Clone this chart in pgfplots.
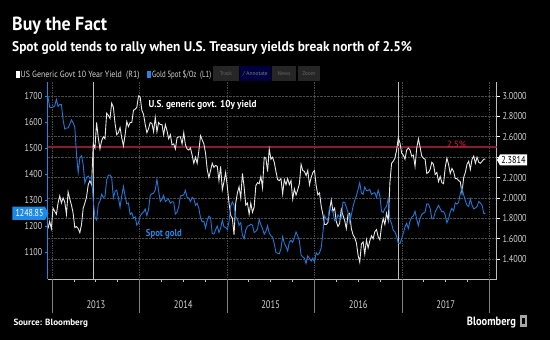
\documentclass[border=0pt]{standalone}
\usepackage{pgfplots}
\pgfplotsset{compat=1.18}
\usepgfplotslibrary{dateplot}
\usepackage{graphicx}
\usepackage{fontspec}
\setmainfont{PT Sans}
\definecolor{goldblue}{HTML}{1F78D8}
\definecolor{boxblue}{HTML}{1E88E5}
\definecolor{yieldwhite}{HTML}{E8E8E8}
\definecolor{gridgray}{HTML}{4A4A4A}
\definecolor{redline}{HTML}{8C1A2E}
\definecolor{redtext}{HTML}{E8183F}
\definecolor{ticktext}{HTML}{D4D4D4}
\definecolor{axisgray}{HTML}{BDBDBD}
\newcommand{\cw}[2]{\resizebox{#1}{\height}{#2}}

\pgfplotstableread{
d v
2012-12-14 1696
2012-12-21 1657
2012-12-28 1656
2013-01-04 1657
2013-01-11 1662
2013-01-18 1687
2013-01-25 1660
2013-02-01 1667
2013-02-08 1667
2013-02-15 1609
2013-02-22 1573
2013-03-01 1577
2013-03-08 1577
2013-03-15 1592
2013-03-22 1608
2013-03-29 1597
2013-04-05 1580
2013-04-12 1477
2013-04-19 1405
2013-04-26 1462
2013-05-03 1470
2013-05-10 1436
2013-05-17 1365
2013-05-24 1387
2013-05-31 1392
2013-06-07 1383
2013-06-14 1388
2013-06-21 1297
2013-06-28 1234
2013-07-05 1223
2013-07-12 1283
2013-07-19 1295
2013-07-26 1322
2013-08-02 1310
2013-08-09 1313
2013-08-16 1377
2013-08-23 1396
2013-08-30 1395
2013-09-06 1387
2013-09-13 1308
2013-09-20 1333
2013-09-27 1338
2013-10-04 1309
2013-10-11 1272
2013-10-18 1316
2013-10-25 1352
2013-11-01 1315
2013-11-08 1285
2013-11-15 1288
2013-11-22 1244
2013-11-29 1251
2013-12-06 1230
2013-12-13 1235
2013-12-20 1203
2013-12-27 1212
2014-01-03 1238
2014-01-10 1248
2014-01-17 1254
2014-01-24 1265
2014-01-31 1240
2014-02-07 1263
2014-02-14 1318
2014-02-21 1324
2014-02-28 1326
2014-03-07 1339
2014-03-14 1379
2014-03-21 1335
2014-03-28 1294
2014-04-04 1303
2014-04-11 1318
2014-04-18 1294
2014-04-25 1300
2014-05-02 1302
2014-05-09 1288
2014-05-16 1293
2014-05-23 1292
2014-05-30 1246
2014-06-06 1253
2014-06-13 1274
2014-06-20 1316
2014-06-27 1317
2014-07-04 1320
2014-07-11 1337
2014-07-18 1310
2014-07-25 1307
2014-08-01 1294
2014-08-08 1310
2014-08-15 1305
2014-08-22 1280
2014-08-29 1287
2014-09-05 1268
2014-09-12 1231
2014-09-19 1216
2014-09-26 1218
2014-10-03 1192
2014-10-10 1222
2014-10-17 1238
2014-10-24 1231
2014-10-31 1171
2014-11-07 1169
2014-11-14 1185
2014-11-21 1200
2014-11-28 1175
2014-12-05 1191
2014-12-12 1222
2014-12-19 1196
2014-12-26 1195
2015-01-02 1186
2015-01-09 1216
2015-01-16 1277
2015-01-23 1293
2015-01-30 1279
2015-02-06 1234
2015-02-13 1227
2015-02-20 1203
2015-02-27 1213
2015-03-06 1164
2015-03-13 1152
2015-03-20 1184
2015-03-27 1199
2015-04-03 1201
2015-04-10 1207
2015-04-17 1203
2015-04-24 1175
2015-05-01 1179
2015-05-08 1189
2015-05-15 1225
2015-05-22 1205
2015-05-29 1190
2015-06-05 1168
2015-06-12 1179
2015-06-19 1201
2015-06-26 1173
2015-07-03 1163
2015-07-10 1157
2015-07-17 1132
2015-07-24 1098
2015-07-31 1095
2015-08-07 1093
2015-08-14 1113
2015-08-21 1159
2015-08-28 1133
2015-09-04 1121
2015-09-11 1104
2015-09-18 1138
2015-09-25 1145
2015-10-02 1137
2015-10-09 1156
2015-10-16 1177
2015-10-23 1162
2015-10-30 1142
2015-11-06 1088
2015-11-13 1081
2015-11-20 1076
2015-11-27 1056
2015-12-04 1085
2015-12-11 1075
2015-12-18 1065
2015-12-25 1076
2016-01-01 1061
2016-01-08 1097
2016-01-15 1089
2016-01-22 1097
2016-01-29 1116
2016-02-05 1173
2016-02-12 1239
2016-02-19 1227
2016-02-26 1222
2016-03-04 1271
2016-03-11 1259
2016-03-18 1255
2016-03-25 1220
2016-04-01 1221
2016-04-08 1243
2016-04-15 1235
2016-04-22 1232
2016-04-29 1292
2016-05-06 1290
2016-05-13 1273
2016-05-20 1252
2016-05-27 1214
2016-06-03 1243
2016-06-10 1275
2016-06-17 1298
2016-06-24 1316
2016-07-01 1340
2016-07-08 1366
2016-07-15 1327
2016-07-22 1322
2016-07-29 1350
2016-08-05 1336
2016-08-12 1336
2016-08-19 1341
2016-08-26 1321
2016-09-02 1326
2016-09-09 1328
2016-09-16 1310
2016-09-23 1338
2016-09-30 1316
2016-10-07 1257
2016-10-14 1252
2016-10-21 1267
2016-10-28 1276
2016-11-04 1304
2016-11-11 1225
2016-11-18 1209
2016-11-25 1183
2016-12-02 1177
2016-12-09 1160
2016-12-16 1134
2016-12-23 1132
2016-12-30 1151
2017-01-06 1173
2017-01-13 1197
2017-01-20 1210
2017-01-27 1190
2017-02-03 1220
2017-02-10 1234
2017-02-17 1239
2017-02-24 1257
2017-03-03 1226
2017-03-10 1201
2017-03-17 1229
2017-03-24 1244
2017-03-31 1249
2017-04-07 1254
2017-04-14 1285
2017-04-21 1284
2017-04-28 1268
2017-05-05 1228
2017-05-12 1228
2017-05-19 1254
2017-05-26 1267
2017-06-02 1279
2017-06-09 1266
2017-06-16 1254
2017-06-23 1256
2017-06-30 1242
2017-07-07 1212
2017-07-14 1228
2017-07-21 1254
2017-07-28 1268
2017-08-04 1258
2017-08-11 1289
2017-08-18 1284
2017-08-25 1291
2017-09-01 1325
2017-09-08 1346
2017-09-15 1320
2017-09-22 1297
2017-09-29 1280
2017-10-06 1275
2017-10-13 1304
2017-10-20 1280
2017-10-27 1266
2017-11-03 1269
2017-11-10 1275
2017-11-17 1294
2017-11-24 1288
2017-12-01 1280
2017-12-08 1248
2017-12-15 1248.85
}\goldtable

\pgfplotstableread{
d v
2012-12-14 1.70
2012-12-21 1.77
2012-12-28 1.70
2013-01-04 1.90
2013-01-11 1.87
2013-01-18 1.84
2013-01-25 1.95
2013-02-01 2.02
2013-02-08 1.95
2013-02-15 2.00
2013-02-22 1.96
2013-03-01 1.84
2013-03-08 2.06
2013-03-15 1.99
2013-03-22 1.93
2013-03-29 1.85
2013-04-05 1.71
2013-04-12 1.72
2013-04-19 1.70
2013-04-26 1.66
2013-05-03 1.74
2013-05-10 1.90
2013-05-17 1.95
2013-05-24 2.01
2013-05-31 2.13
2013-06-07 2.17
2013-06-14 2.13
2013-06-21 2.53
2013-06-28 2.49
2013-07-05 2.74
2013-07-12 2.59
2013-07-19 2.48
2013-07-26 2.56
2013-08-02 2.60
2013-08-09 2.58
2013-08-16 2.83
2013-08-23 2.81
2013-08-30 2.78
2013-09-06 2.93
2013-09-13 2.89
2013-09-20 2.73
2013-09-27 2.62
2013-10-04 2.64
2013-10-11 2.69
2013-10-18 2.59
2013-10-25 2.51
2013-11-01 2.62
2013-11-08 2.75
2013-11-15 2.70
2013-11-22 2.74
2013-11-29 2.74
2013-12-06 2.86
2013-12-13 2.87
2013-12-20 2.89
2013-12-27 3.00
2014-01-03 2.99
2014-01-10 2.86
2014-01-17 2.82
2014-01-24 2.72
2014-01-31 2.64
2014-02-07 2.68
2014-02-14 2.74
2014-02-21 2.73
2014-02-28 2.65
2014-03-07 2.79
2014-03-14 2.65
2014-03-21 2.74
2014-03-28 2.72
2014-04-04 2.72
2014-04-11 2.62
2014-04-18 2.72
2014-04-25 2.66
2014-05-02 2.58
2014-05-09 2.62
2014-05-16 2.52
2014-05-23 2.53
2014-05-30 2.48
2014-06-06 2.59
2014-06-13 2.60
2014-06-20 2.60
2014-06-27 2.53
2014-07-04 2.64
2014-07-11 2.52
2014-07-18 2.48
2014-07-25 2.47
2014-08-01 2.49
2014-08-08 2.42
2014-08-15 2.34
2014-08-22 2.40
2014-08-29 2.34
2014-09-05 2.46
2014-09-12 2.61
2014-09-19 2.57
2014-09-26 2.53
2014-10-03 2.44
2014-10-10 2.28
2014-10-17 2.20
2014-10-24 2.27
2014-10-31 2.34
2014-11-07 2.30
2014-11-14 2.32
2014-11-21 2.31
2014-11-28 2.17
2014-12-05 2.31
2014-12-12 2.08
2014-12-19 2.16
2014-12-26 2.25
2015-01-02 2.11
2015-01-09 1.95
2015-01-16 1.83
2015-01-23 1.80
2015-01-30 1.64
2015-02-06 1.95
2015-02-13 2.05
2015-02-20 2.11
2015-02-27 2.00
2015-03-06 2.24
2015-03-13 2.11
2015-03-20 1.93
2015-03-27 1.95
2015-04-03 1.84
2015-04-10 1.95
2015-04-17 1.86
2015-04-24 1.91
2015-05-01 2.12
2015-05-08 2.15
2015-05-15 2.14
2015-05-22 2.21
2015-05-29 2.10
2015-06-05 2.40
2015-06-12 2.39
2015-06-19 2.26
2015-06-26 2.48
2015-07-03 2.38
2015-07-10 2.40
2015-07-17 2.35
2015-07-24 2.26
2015-07-31 2.18
2015-08-07 2.17
2015-08-14 2.19
2015-08-21 2.04
2015-08-28 2.18
2015-09-04 2.13
2015-09-11 2.19
2015-09-18 2.13
2015-09-25 2.17
2015-10-02 1.99
2015-10-09 2.09
2015-10-16 2.03
2015-10-23 2.08
2015-10-30 2.14
2015-11-06 2.33
2015-11-13 2.27
2015-11-20 2.26
2015-11-27 2.22
2015-12-04 2.27
2015-12-11 2.13
2015-12-18 2.20
2015-12-25 2.25
2016-01-01 2.27
2016-01-08 2.12
2016-01-15 2.03
2016-01-22 2.05
2016-01-29 1.92
2016-02-05 1.84
2016-02-12 1.74
2016-02-19 1.74
2016-02-26 1.76
2016-03-04 1.88
2016-03-11 1.98
2016-03-18 1.87
2016-03-25 1.90
2016-04-01 1.77
2016-04-08 1.72
2016-04-15 1.75
2016-04-22 1.89
2016-04-29 1.83
2016-05-06 1.78
2016-05-13 1.70
2016-05-20 1.84
2016-05-27 1.85
2016-06-03 1.70
2016-06-10 1.64
2016-06-17 1.61
2016-06-24 1.56
2016-07-01 1.44
2016-07-08 1.37
2016-07-15 1.55
2016-07-22 1.57
2016-07-29 1.45
2016-08-05 1.59
2016-08-12 1.51
2016-08-19 1.58
2016-08-26 1.63
2016-09-02 1.60
2016-09-09 1.67
2016-09-16 1.69
2016-09-23 1.62
2016-09-30 1.59
2016-10-07 1.72
2016-10-14 1.80
2016-10-21 1.74
2016-10-28 1.85
2016-11-04 1.78
2016-11-11 2.15
2016-11-18 2.34
2016-11-25 2.36
2016-12-02 2.39
2016-12-09 2.47
2016-12-16 2.59
2016-12-23 2.54
2016-12-30 2.44
2017-01-06 2.42
2017-01-13 2.38
2017-01-20 2.47
2017-01-27 2.49
2017-02-03 2.47
2017-02-10 2.41
2017-02-17 2.42
2017-02-24 2.31
2017-03-03 2.49
2017-03-10 2.58
2017-03-17 2.50
2017-03-24 2.41
2017-03-31 2.39
2017-04-07 2.38
2017-04-14 2.24
2017-04-21 2.25
2017-04-28 2.28
2017-05-05 2.35
2017-05-12 2.33
2017-05-19 2.23
2017-05-26 2.25
2017-06-02 2.16
2017-06-09 2.21
2017-06-16 2.15
2017-06-23 2.14
2017-06-30 2.30
2017-07-07 2.39
2017-07-14 2.33
2017-07-21 2.24
2017-07-28 2.29
2017-08-04 2.26
2017-08-11 2.19
2017-08-18 2.19
2017-08-25 2.17
2017-09-01 2.16
2017-09-08 2.05
2017-09-15 2.20
2017-09-22 2.25
2017-09-29 2.33
2017-10-06 2.36
2017-10-13 2.28
2017-10-20 2.38
2017-10-27 2.41
2017-11-03 2.34
2017-11-10 2.40
2017-11-17 2.35
2017-11-24 2.34
2017-12-01 2.36
2017-12-08 2.38
2017-12-15 2.3814
}\yieldtable

\begin{document}
\begin{tikzpicture}[x=1pt,y=1pt]
\useasboundingbox (0,0) rectangle (550,340);
\fill[black] (0,0) rectangle (550,340);

% ---------- right axis: 10y yield ----------
\begin{axis}[
  at={(48pt,60.5pt)}, anchor=south west,
  scale only axis, width=448.7pt, height=197.5pt,
  date coordinates in=x,
  xmin=2012-12-14, xmax=2018-01-31,
  ymin=1.201, ymax=3.137,
  axis x line=none,
  axis y line*=right,
  y axis line style={draw=axisgray, line width=0.7pt, -},
  ytick={1.4,1.6,1.8,2.0,2.2,2.4,2.6,2.8,3.0},
  yticklabels={1.4000,1.6000,1.8000,2.0000,2.2000,{},2.6000,2.8000,3.0000},
  tick align=outside, major tick length=3pt,
  y tick style={draw=white, line width=0.6pt},
  ymajorgrids, major grid style={densely dotted, gridgray, line width=0.7pt},
  yticklabel style={font=\fontsize{10}{10}\selectfont, text=ticktext, xscale=0.82},
]
\foreach \yr in {2013,2014,2015,2016,2017,2018}{
  \edef\tmp{\noexpand\draw[gridgray, densely dotted, line width=0.7pt] (axis cs:\yr-01-01,1.201) -- (axis cs:\yr-01-01,3.137);}\tmp
}
\draw[axisgray, line width=1.1pt] (axis cs:2013-06-23,1.201) -- (axis cs:2013-06-23,3.137);
\draw[axisgray, line width=1.1pt] (axis cs:2016-12-16,1.201) -- (axis cs:2016-12-16,3.137);
\addplot[redline, line width=1.6pt, forget plot] coordinates {(2012-12-14,2.5) (2018-01-31,2.5)};
\addplot[yieldwhite, line width=0.9pt] table[x=d,y=v]{\yieldtable};
\end{axis}

% ---------- left axis: gold ----------
\begin{axis}[
  at={(48pt,60.5pt)}, anchor=south west,
  scale only axis, width=448.7pt, height=197.5pt,
  clip=false,
  date coordinates in=x,
  xmin=2012-12-14, xmax=2018-01-31,
  ymin=994.2, ymax=1753.8,
  axis x line*=bottom, axis y line*=left,
  x axis line style={draw=axisgray, line width=0.8pt, -},
  y axis line style={draw=boxblue, line width=1pt, -},
  xtick=\empty,
  ytick={1100,1200,1300,1400,1500,1600,1700},
  tick align=outside, major tick length=3pt,
  y tick style={draw=boxblue, line width=0.8pt},
  yticklabel style={/pgf/number format/assume math mode=true, /pgf/number format/1000 sep={},
     font=\fontsize{10}{10}\selectfont, text=ticktext, xscale=0.8},
]
\addplot[goldblue, line width=0.9pt] table[x=d,y=v]{\goldtable};
\foreach \yr in {2013,2014,2015,2016,2017,2018}{
  \edef\tmp{\noexpand\draw[gray, line width=0.7pt] (axis cs:\yr-01-01,994.2) -- (axis cs:\yr-01-01,867);}\tmp
}
\foreach \yr in {2013,2014,2015,2016,2017}{
  \edef\tmp{\noexpand\draw[axisgray, line width=0.6pt] (axis cs:\yr-04-01,994.2) -- (axis cs:\yr-04-01,984.6);
            \noexpand\draw[axisgray, line width=0.6pt] (axis cs:\yr-07-01,994.2) -- (axis cs:\yr-07-01,984.6);
            \noexpand\draw[axisgray, line width=0.6pt] (axis cs:\yr-10-01,994.2) -- (axis cs:\yr-10-01,984.6);
            \noexpand\node[text=ticktext, inner sep=0, font=\noexpand\fontsize{11}{11}\noexpand\selectfont, xscale=0.78] at (axis cs:\yr-07-02,896) {\yr};}\tmp
}
\end{axis}

% ---------- annotations ----------
\node[anchor=base west, inner sep=0, text=white] at (12,309) {\cw{95pt}{\bfseries\fontsize{19}{19}\selectfont Buy the Fact}};
\node[anchor=base west, inner sep=0, text=white] at (12,288) {\cw{400pt}{\bfseries\fontsize{14}{14}\selectfont Spot gold tends to rally when U.S. Treasury yields break north of 2.5\%}};

\fill[white] (15.8,262.1) rectangle (19.5,268.8);
\node[anchor=base west, inner sep=0, text=ticktext] at (20.5,262.3) {\cw{119pt}{\fontsize{9}{9}\selectfont US Generic Govt 10 Year Yield\ \ (R1)}};
\fill[boxblue] (147.4,262.1) rectangle (151,268.8);
\node[anchor=base west, inner sep=0, text=ticktext] at (152,262.3) {\cw{59pt}{\fontsize{9}{9}\selectfont Gold Spot \$/Oz\ \ (L1)}};

\fill[black!85] (213,259) rectangle (239,274);
\node[text=gray!80!black, inner sep=0, font=\fontsize{5.5}{5.5}\selectfont] at (226,266.5) {Track};
\fill[blue!25!black] (240,259) rectangle (270.5,274);
\node[text=gray, inner sep=0, font=\fontsize{5.5}{5.5}\selectfont] at (255.3,266.5) {/ Annotate};
\fill[black!85] (272,259) rectangle (296,274);
\node[text=gray!80!black, inner sep=0, font=\fontsize{5.5}{5.5}\selectfont] at (284,266.5) {News};
\fill[black!85] (297.5,259) rectangle (320,274);
\node[text=gray!80!black, inner sep=0, font=\fontsize{5.5}{5.5}\selectfont] at (308.8,266.5) {Zoom};

\node[anchor=base west, inner sep=0, text=white] at (148.3,232.5) {\cw{108pt}{\bfseries\fontsize{10}{10}\selectfont U.S. generic govt. 10y yield}};
\node[anchor=base west, inner sep=0, text=boxblue] at (145.7,103) {\cw{36pt}{\bfseries\fontsize{10}{10}\selectfont Spot gold}};
\node[anchor=base west, inner sep=0, text=redtext] at (446.7,192) {\cw{19pt}{\fontsize{9}{9}\selectfont 2.5\%}};

% value boxes
\fill[boxblue] (12.3,120) -- (45,120) -- (48.5,126.7) -- (45,133.3) -- (12.3,133.3) -- cycle;
\node[text=white, inner sep=0, font=\fontsize{10}{10}\selectfont, xscale=0.8] at (29.5,126.7) {1248.85};
\fill[white] (500,174.5) -- (527,174.5) -- (527,185.5) -- (500,185.5) -- (497,180) -- cycle;
\node[text=black, inner sep=0, font=\fontsize{10}{10}\selectfont, xscale=0.82] at (513.5,180) {2.3814};

% footer
\node[anchor=base west, inner sep=0, text=white] at (13.3,14) {\cw{74.4pt}{\bfseries\fontsize{9}{9}\selectfont Source: Bloomberg}};
\node[anchor=base west, inner sep=0, text=white] at (466.7,14.5) {\cw{49pt}{\bfseries\fontsize{12}{12}\selectfont Bloomberg}};
\fill[gray!70] (520,12.5) rectangle (527,25);
\fill[black] (522,16) rectangle (525,22);
\end{tikzpicture}
\end{document}
